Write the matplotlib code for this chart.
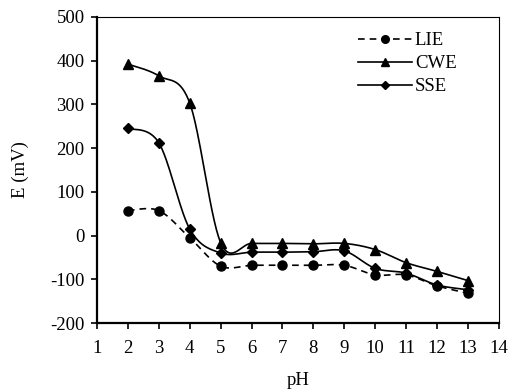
import numpy as np
import matplotlib.pyplot as plt

plt.rcParams['font.family'] = ['Liberation Serif', 'DejaVu Serif']
plt.rcParams['axes.unicode_minus'] = False

ph = [2, 3, 4, 5, 6, 7, 8, 9, 10, 11, 12, 13]
lie = [57, 57, -5, -70, -68, -68, -68, -68, -90, -90, -115, -132]
cwe = [392, 365, 303, -16, -18, -18, -19, -18, -32, -62, -82, -103]
sse = [245, 212, 15, -40, -38, -38, -37, -35, -75, -86, -113, -124]


def smooth(x, y, n=30):
    # Excel-style smoothed line (Catmull-Rom as cubic Bezier)
    x = np.asarray(x, float)
    y = np.asarray(y, float)
    px = np.concatenate([[x[0]], x, [x[-1]]])
    py = np.concatenate([[y[0]], y, [y[-1]]])
    xs, ys = [], []
    t = np.linspace(0, 1, n)
    for i in range(1, len(px) - 2):
        p0 = np.array([px[i], py[i]])
        p3 = np.array([px[i + 1], py[i + 1]])
        p1 = p0 + (np.array([px[i + 1], py[i + 1]]) - np.array([px[i - 1], py[i - 1]])) / 6
        p2 = p3 - (np.array([px[i + 2], py[i + 2]]) - np.array([px[i], py[i]])) / 6
        b = ((1 - t) ** 3)[:, None] * p0 + (3 * (1 - t) ** 2 * t)[:, None] * p1 \
            + (3 * (1 - t) * t ** 2)[:, None] * p2 + (t ** 3)[:, None] * p3
        xs.extend(b[:, 0])
        ys.extend(b[:, 1])
    return xs, ys


fig = plt.figure(figsize=(5.09, 3.92), dpi=100)
ax = fig.add_axes([0.1906, 0.176, 0.7894, 0.781])

series = [("LIE", lie, "o", (0, (4, 3)), 6.5, 5.5),
          ("CWE", cwe, "^", "-", 7, 6),
          ("SSE", sse, "D", "-", 5, 4.5)]
for name, vals, mk, ls, ms, lms in series:
    sx, sy = smooth(ph, vals)
    ax.plot(sx, sy, color="black", linestyle=ls, linewidth=1.2)
    ax.plot(ph, vals, linestyle="none", marker=mk, color="black", markersize=ms)
    ax.plot([], [], color="black", linestyle=ls, linewidth=1.2, marker=mk,
            markersize=lms, label=name)

ax.set_xlim(1, 14)
ax.set_ylim(-200, 500)
ax.set_xticks(range(1, 15))
ax.set_yticks(range(-200, 501, 100))
ax.tick_params(direction="out", length=4, width=1.2, labelsize=13.5, colors="black")
ax.tick_params(axis="y", pad=5)
ax.tick_params(axis="x", pad=8)
for s in ["left", "bottom"]:
    ax.spines[s].set_linewidth(1.6)
for s in ["top", "right"]:
    ax.spines[s].set_linewidth(0.8)
ax.set_xlabel("pH", fontsize=13.5, labelpad=11)
ax.set_ylabel("E (mV)", fontsize=13.5, labelpad=15)

ax.legend(loc="upper left", bbox_to_anchor=(0.63, 0.975), frameon=False,
          fontsize=13.5, handlelength=2.9, handletextpad=0.15, labelspacing=0.32,
          borderaxespad=0)

fig.savefig("out.png", dpi=100)
